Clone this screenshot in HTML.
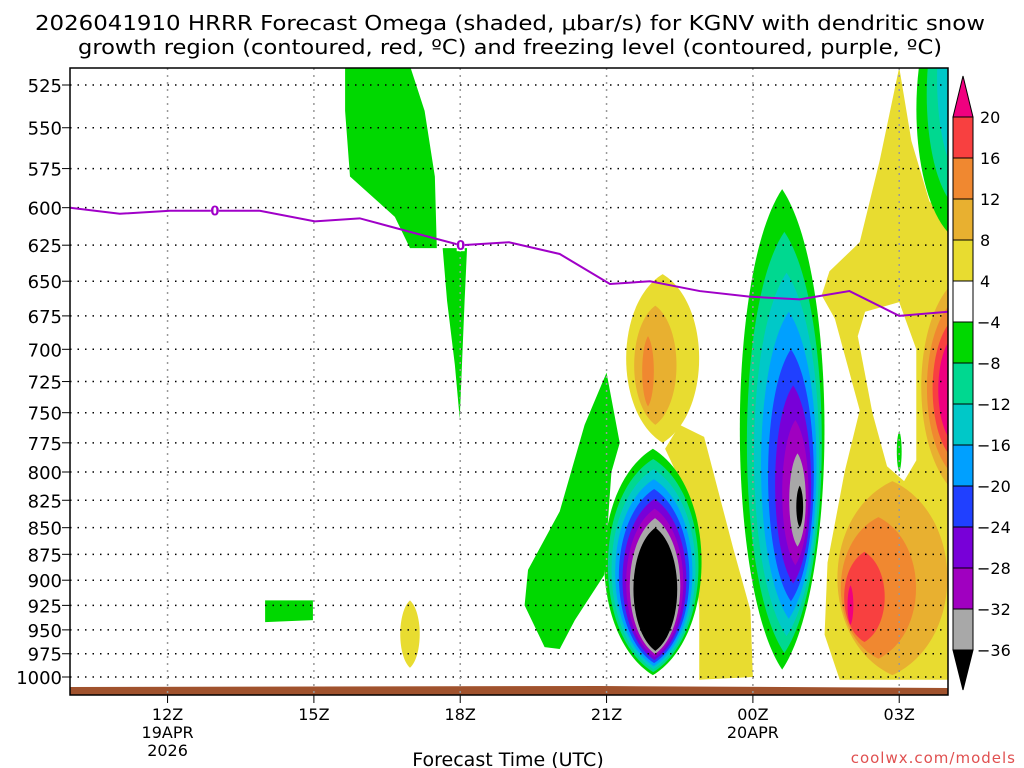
<!DOCTYPE html>
<html><head><meta charset="utf-8">
<style>
body{margin:0;background:#fff;}
svg{display:block;font-family:"DejaVu Sans","Liberation Sans",sans-serif;}
</style></head>
<body>
<svg id="chart" width="1024" height="768" viewBox="0 0 1024 768" xmlns="http://www.w3.org/2000/svg">
<text x="35" y="30" font-size="20" textLength="950" lengthAdjust="spacingAndGlyphs">2026041910 HRRR Forecast Omega (shaded, μbar/s) for KGNV with dendritic snow</text>
<text x="78" y="54" font-size="20" textLength="864" lengthAdjust="spacingAndGlyphs">growth region (contoured, red, ºC) and freezing level (contoured, purple, ºC)</text>
<defs><clipPath id="plotclip"><rect x="70" y="68" width="878" height="627"/></clipPath></defs>
<g id="shading" clip-path="url(#plotclip)"></g>
<g id="grid"></g>
<g id="fz" clip-path="url(#plotclip)"></g>
<rect x="70" y="68" width="878" height="627" fill="none" stroke="#000" stroke-width="1.5"/>
<g id="axes"></g>
<g id="cbar"></g>
<text x="508" y="766" text-anchor="middle" font-size="19">Forecast Time (UTC)</text>
<text x="1016" y="763" text-anchor="end" font-size="15" fill="#e05050" letter-spacing="1">coolwx.com/models</text>
</svg>
<script>
// ---- data ----
const pressureTicks=[525,550,575,600,625,650,675,700,725,750,775,800,825,850,875,900,925,950,975,1000];
const timeTickHours=[2,5,8,11,14,17];
const timeTickLabels=["12Z","15Z","18Z","21Z","00Z","03Z"];
const dateLabels=[{h:2,l1:"19APR",l2:"2026"},{h:14,l1:"20APR",l2:""}];
const cbarLevels=[20,16,12,8,4,-4,-8,-12,-16,-20,-24,-28,-32,-36];
const cbarColors=["#f0007f","#f84040","#f08830","#e8b030","#e8dc30","#ffffff","#00d800","#00d890","#00c8c8","#00a0ff","#2040ff","#7800d8","#a000c0","#a8a8a8","#000000"];
// freezing level [hour since 10Z, hPa]
const fzHours=[0,1.02,2.05,2.97,3.89,5.02,5.94,6.97,8.01,9.0,10.04,11.07,11.89,12.91,13.93,14.96,15.98,17.0,18.0];
const fzPres=[600,604,602,602,602,609,607,616,625,623,631,652,650,657,661,663,657,675,672];
const fzLabelHours=[2.97,8.01];
// shaded polygons: value, [hour,hPa] pairs
const polyValues=[-6,-6,-6,-6,6,6,0];
const polyPoints=[
 [[5.64,505],[6.86,505],[7.27,540],[7.48,580],[7.52,627],[6.97,627],[6.66,606],[5.74,580],[5.64,540]],
 [[7.64,627],[8.14,627],[8.09,664],[7.99,755],[7.89,712],[7.73,664]],
 [[4.0,920],[4.98,920],[4.98,940],[4.0,942]],
 [[11.0,718],[11.27,775],[11.1,800],[10.95,895],[10.35,940],[10.04,970],[9.73,968],[9.32,925],[9.39,890],[10.04,835],[10.55,760]],
 [[12.5,760],[13.0,770],[13.6,870],[13.95,930],[14.0,1000],[12.9,1003],[12.9,930],[12.75,830],[12.2,780]],
 [[17.0,515],[17.25,558],[17.62,596],[18.3,615],[18.3,1003],[15.78,1003],[15.47,955],[15.53,883],[15.88,800],[16.19,748],[15.68,677],[15.41,660],[15.57,643],[16.19,623],[16.6,570]],
 [[16.3,672],[17.0,665],[17.35,700],[17.35,790],[17.1,808],[16.75,795],[16.45,750],[16.15,690]]
];
// nested lens blobs: outer & inner [centerHour, halfWidthHours, topHPa, bottomHPa], ring values
const blobOuter=[[11.95,1.0,780,998],[14.6,0.87,588,992],[12.15,0.75,645,775],[16.86,1.13,808,998],[18.2,0.75,648,820],[18.05,0.7,470,618],[6.97,0.2,920,990],[17.0,0.05,765,800]];
const blobInner=[[12.0,0.45,850,972],[14.96,0.07,812,850],[11.85,0.12,690,745],[16.0,0.06,905,945],[18.1,0.3,690,775],[18.3,0.1,470,540],[6.97,0.2,920,990],[17.0,0.05,765,800]];
const blobValues=[
 [-6,-10,-14,-18,-22,-26,-30,-34,-40],
 [-6,-10,-14,-18,-22,-26,-30,-34,-40],
 [6,10,14],
 [10,14,18,22],
 [10,14,18,22],
 [-6,-10,-14,-18,-22],
 [6],
 [-6]
];
// ---- scales ----
const X0=70,X1=948,Y0=85,Y1=677;
const x=h=>X0+h*(X1-X0)/18;
const y=p=>Y0+(Math.log(p)-Math.log(525))/(Math.log(1000)-Math.log(525))*(Y1-Y0);
function col(v){
 if(v>20)return cbarColors[0];
 for(let i=0;i<cbarLevels.length;i++){if(v>cbarLevels[i])return cbarColors[i];}
 return cbarColors[cbarColors.length-1];
}
const NS="http://www.w3.org/2000/svg";
function mk(tag,attrs,parent){const e=document.createElementNS(NS,tag);for(const k in attrs)e.setAttribute(k,attrs[k]);parent.appendChild(e);return e;}
const shading=document.getElementById('shading');
polyPoints.forEach((pts,i)=>{
 const e=mk('polygon',{points:pts.map(q=>x(q[0])+','+y(q[1])).join(' '),fill:col(polyValues[i])},shading);
 
 
});
function lens(cx,hw,top,bot){
 const cy=(top+bot)/2,k=1.33*hw;
 return `M${cx},${top} C${cx+k},${top+(cy-top)*0.35} ${cx+k},${bot-(bot-cy)*0.35} ${cx},${bot} C${cx-k},${bot-(bot-cy)*0.35} ${cx-k},${top+(cy-top)*0.35} ${cx},${top}Z`;
}
blobOuter.forEach((o,b)=>{
 const inn=blobInner[b],vals=blobValues[b],n=vals.length;
 vals.forEach((v,r)=>{
  const f=n>1?r/(n-1):0;
  const L=(a,c)=>a+(c-a)*f;
  const ch=L(o[0],inn[0]),hw=L(o[1],inn[1]),pt=L(o[2],inn[2]),pb=L(o[3],inn[3]);
  const e=mk('path',{d:lens(x(ch),hw*(X1-X0)/18,y(pt),y(pb)),fill:col(v)},shading);
  
  
 });
});
// ground
const g=mk('polygon',{points:`70,687 600,686 948,688 948,695 70,695`,fill:"#a0522d"},shading);


// grid
const grid=document.getElementById('grid'),axes=document.getElementById('axes');
pressureTicks.forEach(p=>{
 const yy=y(p);
 const l=mk('line',{x1:X0,x2:948,y1:yy,y2:yy,stroke:"#000","stroke-dasharray":"1.5,6","stroke-width":1.5},grid);
 
 
 const t=mk('text',{x:62,y:yy+7,"text-anchor":"end","font-size":18},axes);t.textContent=p;
 
 
 mk('line',{x1:62,x2:70,y1:yy,y2:yy,stroke:"#000"},axes);
});
timeTickHours.forEach((h,i)=>{
 const xx=x(h);
 const l=mk('line',{x1:xx,x2:xx,y1:68,y2:695,stroke:"#999","stroke-dasharray":"2,5","stroke-width":1.5},grid);
 
 
 mk('line',{x1:xx,x2:xx,y1:695,y2:703,stroke:"#000"},axes);
 const t=mk('text',{x:xx,y:720,"text-anchor":"middle","font-size":16},axes);t.textContent=timeTickLabels[i];
 
 
});
dateLabels.forEach(d=>{
 const t=mk('text',{x:x(d.h),y:738,"text-anchor":"middle","font-size":16},axes);t.textContent=d.l1;
 
 
 if(d.l2){const t2=mk('text',{x:x(d.h),y:756,"text-anchor":"middle","font-size":16},axes);t2.textContent=d.l2;
 
 }
});
// freezing line
const fz=document.getElementById('fz');
const fl=mk('polyline',{points:fzHours.map((h,i)=>x(h)+','+y(fzPres[i])).join(' '),fill:"none",stroke:"#a000c8","stroke-width":2},fz);


fzLabelHours.forEach(h=>{
 let i=fzHours.indexOf(h);const p=fzPres[i];
 mk('rect',{x:x(h)-4,y:y(p)-6,width:8,height:12,fill:"#fff"},fz);
 const t=mk('text',{x:x(h),y:y(p)+5,"text-anchor":"middle","font-size":13,fill:"#a000c8","font-weight":"bold"},fz);t.textContent="0";
 
 
});
// colorbar
const cb=document.getElementById('cbar');
const CX=953,CW=20,CT=117,CS=41;
const tri=mk('polygon',{points:`${CX},${CT} ${CX+CW},${CT} ${CX+CW/2},76`,fill:cbarColors[0],stroke:"#000"},cb);


for(let i=1;i<cbarColors.length-1;i++){
 const r=mk('rect',{x:CX,y:CT+(i-1)*CS,width:CW,height:CS,fill:cbarColors[i],stroke:"#000"},cb);
 
 
}
const bt=CT+(cbarColors.length-2)*CS;
const tri2=mk('polygon',{points:`${CX},${bt} ${CX+CW},${bt} ${CX+CW/2},690`,fill:"#000",stroke:"#000"},cb);


cbarLevels.forEach((v,i)=>{
 const t=mk('text',{x:v<0?977:980,y:CT+i*CS+6,"font-size":16},cb);t.textContent=v<0?"−"+(-v):String(v);
 
 
});
</script>
</body></html>
